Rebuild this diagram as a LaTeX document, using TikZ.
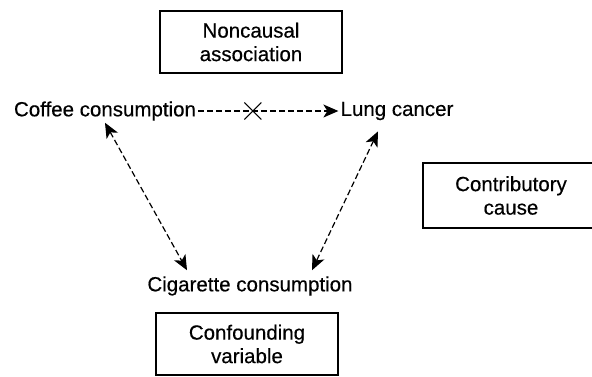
\documentclass[tikz,border=0pt]{standalone}
\usepackage{fontspec}
\setmainfont[FakeBold=0.4]{Liberation Sans}
\usetikzlibrary{positioning,arrows.meta,shapes.misc}

\begin{document}
\begin{tikzpicture}[
  x=1pt,y=-1pt,
  txt/.style={inner sep=2pt,font=\fontsize{20.5}{24}\selectfont},
  labelbox/.style={rectangle,draw,line width=1.2pt,align=center,minimum width=182pt,minimum height=62pt,font=\fontsize{20.5}{23.5}\selectfont},
  assoc/.style={-{Stealth[length=15pt,width=13pt,inset=4pt]},line width=1.2pt,dash pattern=on 6pt off 3pt},
  bothway/.style={{Stealth[length=15pt,width=13pt,inset=4pt]}-{Stealth[length=15pt,width=13pt,inset=4pt]},line width=1.2pt,dash pattern=on 6pt off 3pt},
  xmark/.style={cross out,draw,solid,line width=1pt,minimum size=16pt,inner sep=0pt},
]
\useasboundingbox (0,0) rectangle (592,376);

% ==== labels in boxes ====
\node[labelbox] (nonc) at (251,42) {Noncausal\\association};
% right side of this box runs off the page
\node[labelbox,minimum height=65pt,text width=200pt,inner xsep=0pt] (contrib) at (523,195.5) {\hspace*{-24pt}Contributory\\\hspace*{-24pt}cause};
\node[labelbox] (confd) at (247,344) {Confounding\\variable};

% ==== variables ====
\node[txt] (coffee) at (105,111) {Coffee consumption};
\node[txt] (lung) at (397,111) {Lung cancer};
\node[txt] (cig) at (250,286) {Cigarette consumption};

% ==== connections ====
\draw[assoc] (coffee.east) -- node[xmark,pos=0.39] (nox) {} (lung.west);
\draw[bothway] (coffee.south) -- ([xshift=-63pt,yshift=4pt]cig.north);
\draw[bothway] ([xshift=-19pt,yshift=-9pt]lung.south) -- ([xshift=62pt,yshift=4pt]cig.north);

\end{tikzpicture}
\end{document}
